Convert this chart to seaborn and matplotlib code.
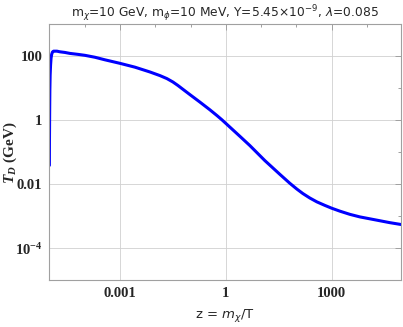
import matplotlib
matplotlib.use('Agg')
import matplotlib.pyplot as plt
import matplotlib.ticker as mticker
import seaborn as sns
import numpy as np
import pandas as pd

# log10 values
log_z = [-4.997, -4.995, -4.989, -4.984, -4.976, -4.964, -4.950, -4.933, -4.911, -4.882,
         -4.840, -4.783, -4.698, -4.557, -4.415, -4.189, -3.991, -3.708, -3.425, -3.0,
         -2.575, -2.151, -1.868, -1.670, -1.500, -1.358, -1.217, -1.019, -0.736, -0.453,
         -0.255, -0.113, 0.113, 0.396, 0.679, 1.104, 1.529, 1.812, 2.010, 2.180,
         2.378, 2.576, 2.802, 3.0, 3.227, 3.510, 3.793, 4.218, 4.642, 4.973]
log_td = [-1.41, -0.63, 0.31, 0.94, 1.41, 1.72, 1.94, 2.06, 2.13, 2.16,
          2.16, 2.16, 2.14, 2.12, 2.09, 2.06, 2.03, 1.97, 1.89, 1.78,
          1.66, 1.51, 1.397, 1.303, 1.197, 1.088, 0.969, 0.803, 0.569, 0.328,
          0.15, 0.016, -0.213, -0.50, -0.79, -1.26, -1.69, -1.97, -2.15, -2.29,
          -2.43, -2.55, -2.66, -2.75, -2.84, -2.94, -3.02, -3.11, -3.20, -3.26]

x_major = [1e-3, 1, 1e3]
x_labels = ['0.001', '1', '1000']
x_minor = [1e-4, 1e-2, 1e-1, 1e1, 1e2, 1e4]
y_major = [1e-4, 1e-2, 1, 1e2]
y_labels = [r'$\mathbf{10^{-4}}$', '0.01', '1', '100']
y_minor = [1e-5, 1e-3, 1e-1, 1e1, 1e3]

df = pd.DataFrame({'z': 10.0 ** np.array(log_z), 'TD': 10.0 ** np.array(log_td)})

sns.set_style('white')
plt.rcParams['font.family'] = ['DejaVu Sans']
plt.rcParams['mathtext.fontset'] = 'custom'
plt.rcParams['mathtext.rm'] = 'DejaVu Sans'
plt.rcParams['mathtext.it'] = 'DejaVu Sans:italic'
plt.rcParams['mathtext.bf'] = 'Liberation Serif:bold'
plt.rcParams['mathtext.bfit'] = 'Liberation Serif:bold:italic'

fig = plt.figure(figsize=(4.03, 3.27), dpi=100)
ax = fig.add_axes([0.1223, 0.143, 0.8737, 0.7827])

sns.lineplot(data=df, x='z', y='TD', ax=ax, color='#0000ff', lw=2.2,
             estimator=None, sort=False)
ax.set_xscale('log')
ax.set_yscale('log')
ax.set_xlim(1e-5, 10 ** 4.97)
ax.set_ylim(1e-5, 1e3)

ax.xaxis.set_major_locator(mticker.FixedLocator(x_major))
ax.xaxis.set_major_formatter(mticker.FixedFormatter(x_labels))
ax.xaxis.set_minor_locator(mticker.FixedLocator(x_minor))
ax.xaxis.set_minor_formatter(mticker.NullFormatter())
ax.yaxis.set_major_locator(mticker.FixedLocator(y_major))
ax.yaxis.set_major_formatter(mticker.FixedFormatter(y_labels))
ax.yaxis.set_minor_locator(mticker.FixedLocator(y_minor))
ax.yaxis.set_minor_formatter(mticker.NullFormatter())

ax.tick_params(which='both', direction='in', top=True, right=True,
               color='#a0a0a0', width=0.7)
ax.tick_params(which='major', length=4, pad=5)
ax.tick_params(which='minor', length=2.5)
for lab in ax.get_xticklabels() + ax.get_yticklabels():
    lab.set_fontfamily('Liberation Serif')
    lab.set_fontweight('bold')
    lab.set_fontsize(10.5)

ax.grid(True, which='major', color='#d0d0d0', lw=0.6)
for s in ax.spines.values():
    s.set_color('#a0a0a0')
    s.set_linewidth(0.8)

ax.set_title(r'm$_\chi$=10 GeV, m$_\phi$=10 MeV, Y=5.45$\times$10$^{-9}$, $\lambda$=0.085',
             fontsize=8.8, pad=5)
ax.set_xlabel(r'z = $m_\chi$/T', fontsize=9.5, labelpad=5)
ax.set_ylabel(r'$\mathbfit{T}_{\mathbfit{D}}$ (GeV)', fontsize=11,
              fontfamily='Liberation Serif', fontweight='bold')
ax.yaxis.set_label_coords(-0.086, 0.5)

fig.savefig('out.png', dpi=100)
